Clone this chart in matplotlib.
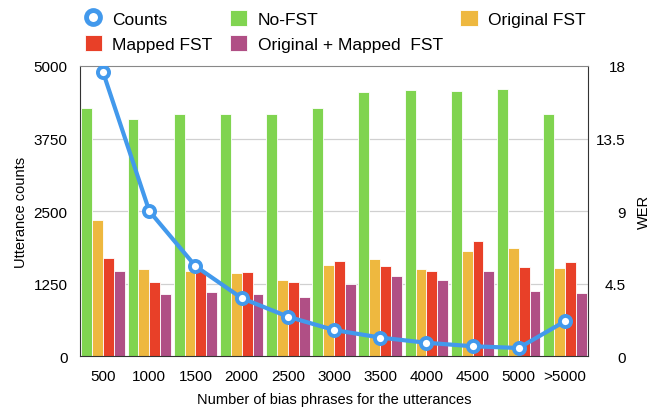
import matplotlib
matplotlib.use("Agg")
import matplotlib.pyplot as plt
from matplotlib.lines import Line2D
import numpy as np

plt.rcParams['font.family'] = ['Liberation Sans', 'DejaVu Sans']

categories = ["500", "1000", "1500", "2000", "2500", "3000", "3500", "4000", "4500", "5000", ">5000"]
counts = [4890, 2500, 1550, 1000, 680, 450, 320, 230, 170, 140, 600]
wer_no_fst = [15.4, 14.7, 15.0, 15.0, 15.0, 15.4, 16.4, 16.5, 16.45, 16.55, 15.0]
wer_original = [8.45, 5.4, 5.25, 5.15, 4.7, 5.65, 6.05, 5.4, 6.5, 6.7, 5.45]
wer_mapped = [6.1, 4.6, 5.3, 5.2, 4.6, 5.9, 5.6, 5.3, 7.15, 5.55, 5.85]
wer_both = [5.25, 3.85, 4.0, 3.85, 3.65, 4.45, 4.95, 4.7, 5.3, 4.05, 3.9]

series = [
    ("No-FST", wer_no_fst, "#80D450"),
    ("Original FST", wer_original, "#EEB83F"),
    ("Mapped FST", wer_mapped, "#E84028"),
    ("Original + Mapped  FST", wer_both, "#B04F85"),
]
blue = "#4299EC"

fig = plt.figure(figsize=(6.57, 4.10), dpi=100)
ax = fig.add_axes([0.1218, 0.129, 0.7732, 0.7076])
ax2 = ax.twinx()

x = np.arange(len(categories))
w = 0.235
bars = []
for i, (name, vals, col) in enumerate(series):
    b = ax2.bar(x + (i - 1.5) * w, vals, w, color=col, edgecolor="white",
                linewidth=0.6, label=name, zorder=2)
    bars.append(b)

# counts line on the left axis, drawn above the bars
ax.set_zorder(ax2.get_zorder() + 1)
ax.patch.set_visible(False)
ax.plot(x, counts, color=blue, lw=3, marker="o", ms=8,
        mfc="white", mec=blue, mew=2.8, zorder=5)

ax.set_xlim(-0.5, len(categories) - 0.5)
ax.set_ylim(0, 5000)
ax2.set_ylim(0, 18)
ax.set_yticks([0, 1250, 2500, 3750, 5000])
ax2.set_yticks([0, 4.5, 9, 13.5, 18])
ax2.set_yticklabels(["0", "4.5", "9", "13.5", "18"], ha="right")
ax.set_xticks(x)
ax.set_xticklabels(categories)
ax.tick_params(length=0, labelsize=11, pad=9)
ax2.tick_params(length=0, labelsize=11, pad=27)

for yv in [4.5, 9, 13.5]:
    ax2.axhline(yv, color="#D0D0D0", lw=0.9, zorder=0)

for s in ["left", "bottom", "right"]:
    ax.spines[s].set_color("#333333")
ax.spines["top"].set_color("#888888")
for s in ax2.spines.values():
    s.set_visible(False)

ax.set_ylabel("Utterance counts", fontsize=10.5, labelpad=4)
ax2.set_ylabel("WER", fontsize=10.5, labelpad=8)
ax.set_xlabel("Number of bias phrases for the utterances", fontsize=10.5, labelpad=7)

counts_handle = Line2D([], [], ls="none", marker="o", ms=10, mfc="white",
                       mec=blue, mew=3.5)
handles = [counts_handle, bars[2], bars[0], bars[3], bars[1]]
labels = ["Counts", "Mapped FST", "No-FST", "Original + Mapped  FST", "Original FST"]
fig.legend(handles, labels, ncol=3, loc="upper left", bbox_to_anchor=(0.105, 1.012),
           frameon=False, fontsize=12.5, handlelength=1.0, handleheight=1.1,
           handletextpad=0.6, columnspacing=1.0, labelspacing=0.45)

fig.savefig("out.png", dpi=100)
